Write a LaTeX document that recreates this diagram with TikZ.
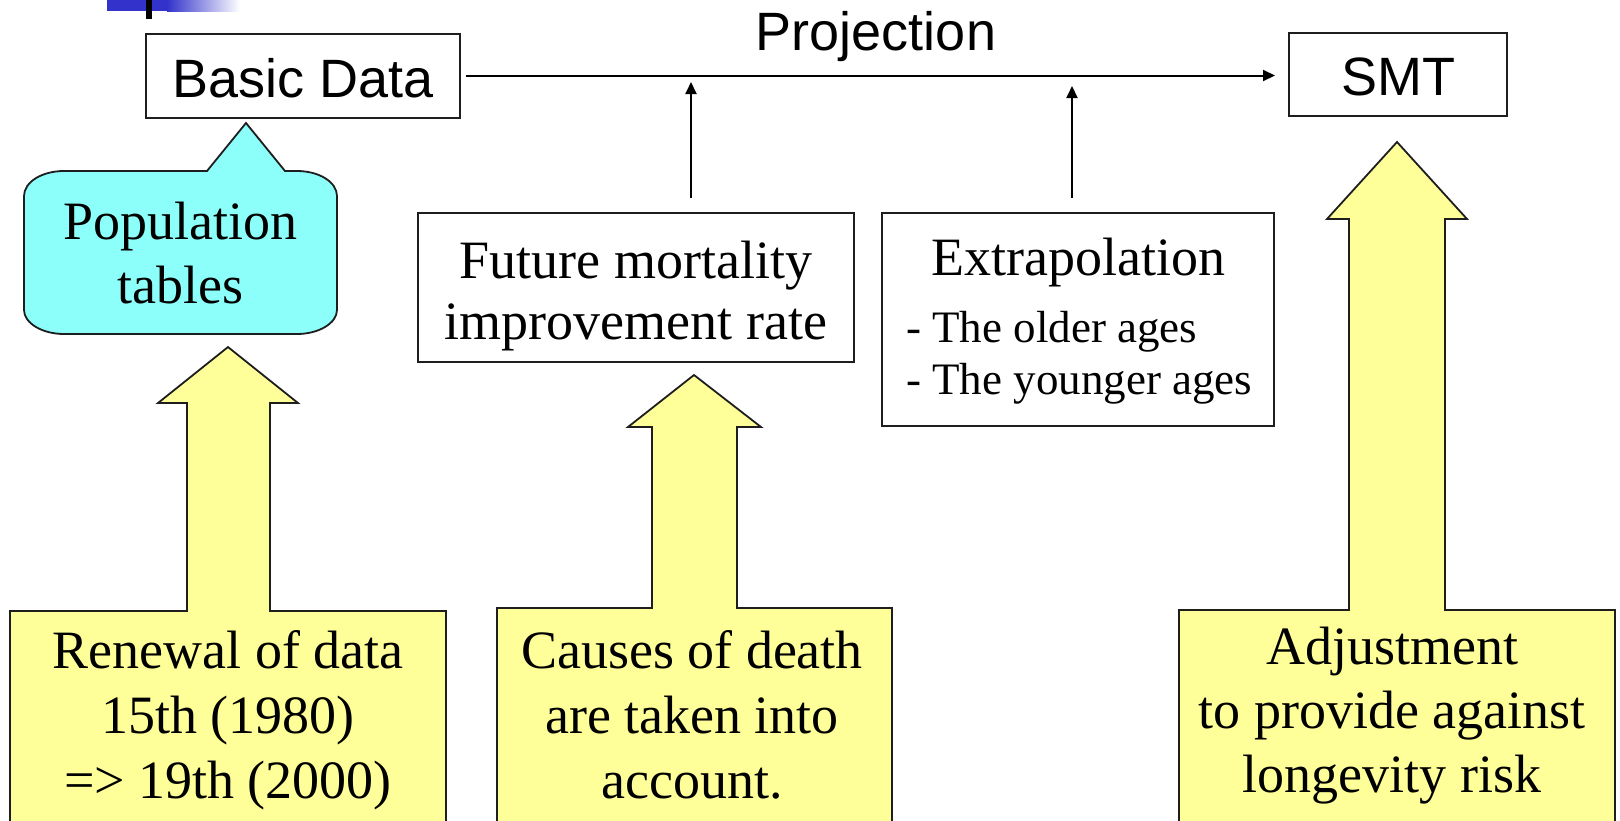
\documentclass[tikz,border=0pt]{standalone}
\usepackage{fontspec}
\setmainfont{Liberation Serif}
\newfontfamily\arialf{Liberation Sans}
\usetikzlibrary{arrows.meta}
\definecolor{yel}{RGB}{255,255,153}
\definecolor{cyanfill}{RGB}{140,255,250}
\definecolor{barblue}{RGB}{51,51,204}
\definecolor{edge}{RGB}{30,30,30}
\begin{document}
\begin{tikzpicture}[x=1pt,y=-1pt,
  box/.style={draw=edge, line width=1.8pt, fill=white, inner sep=0pt, outer sep=0pt},
  serif/.style={font=\fontsize{54}{64}\selectfont, inner sep=0pt, anchor=base},
  sans/.style={font=\arialf\fontsize{54}{64}\selectfont, inner sep=0pt, anchor=base},
  smallserif/.style={font=\fontsize{45}{54}\selectfont, inner sep=0pt, anchor=base west},
  conn/.style={line width=2pt, -{Triangle[length=12pt,width=11pt]}},
  bigarrow/.style={draw=edge, line width=1.8pt, fill=yel, line join=miter},
  callout/.style={draw=edge, line width=1.8pt, fill=cyanfill, line join=miter}
]
\useasboundingbox (0,0) rectangle (1620,820);
\clip (0,0) rectangle (1620,820);
% top decoration
\fill[barblue] (107,0) rectangle (168,11);
\shade[left color=barblue, right color=white] (167,0) rectangle (240,11);
\fill[black] (146,0) rectangle (152,19);
% boxes
\node[box, minimum width=314pt, minimum height=84pt] (bd) at (303,76) {};
\node[box, minimum width=218pt, minimum height=83pt] (smt) at (1398,74.5) {};
\node[box, minimum width=436pt, minimum height=149pt] (fm) at (636,287.5) {};
\node[box, minimum width=392pt, minimum height=213pt] (ex) at (1078,319.5) {};
% texts of boxes
\node[sans] (bdt) at (303,97) {Basic Data};
\node[sans] (smtt) at (1398,95) {SMT};
\node[sans] (proj) at (876,50) {Projection};
\node[serif] (fm1) at (636,278) {Future mortality};
\node[serif] (fm2) at (636,339) {improvement rate};
\node[serif] (ex1) at (1078,275) {Extrapolation};
\node[smallserif] (ex2) at (906,342) {- The older ages};
\node[smallserif] (ex3) at (906,394) {- The younger ages};
% main connector
\draw[conn, shorten <=6pt, shorten >=14pt] (bd.east |- 0,75.5) -- (smt.west |- 0,75.5);
% vertical connectors
\coordinate (v1s) at (691,198);
\coordinate (v1e) at (691,82);
\coordinate (v2s) at (1072,198);
\coordinate (v2e) at (1072,86);
\draw[conn] (v1s) -- (v1e);
\draw[conn] (v2s) -- (v2e);
% callout
\path[callout] (207,171) -- (246,123) -- (285,171) -- (297,171)
  .. controls (319,171) and (337,182) .. (337,196) -- (337,310)
  .. controls (337,323) and (319,334) .. (297,334) -- (64,334)
  .. controls (42,334) and (24,323) .. (24,310) -- (24,196)
  .. controls (24,182) and (42,171) .. (64,171) -- cycle;
\node[serif] (pop1) at (180.5,239) {Population};
\node[serif] (pop2) at (180.5,303) {tables};
% yellow arrows with boxes
\path[bigarrow] (10,611) -- (187,611) -- (187,403) -- (158,403) -- (228,347) -- (298,403)
  -- (270,403) -- (270,611) -- (446,611) -- (446,840) -- (10,840) -- cycle;
\path[bigarrow] (497,608) -- (652,608) -- (652,427) -- (628,427) -- (694,375) -- (761,427)
  -- (737,427) -- (737,608) -- (892,608) -- (892,840) -- (497,840) -- cycle;
\path[bigarrow] (1179,610) -- (1349,610) -- (1349,219) -- (1327,219) -- (1397,142) -- (1467,219)
  -- (1445,219) -- (1445,610) -- (1615,610) -- (1615,840) -- (1179,840) -- cycle;
\node[serif] (r1) at (228,668) {Renewal of data};
\node[serif] (r2) at (228,733) {15th (1980)};
\node[serif] (r3) at (228,798) {=> 19th (2000)};
\node[serif] (c1) at (692,668) {Causes of death};
\node[serif] (c2) at (692,733) {are taken into};
\node[serif] (c3) at (692,798) {account.};
\node[serif] (a1) at (1392,664) {Adjustment};
\node[serif] (a2) at (1392,728) {to provide against};
\node[serif] (a3) at (1392,792) {longevity risk};
\end{tikzpicture}
\end{document}
